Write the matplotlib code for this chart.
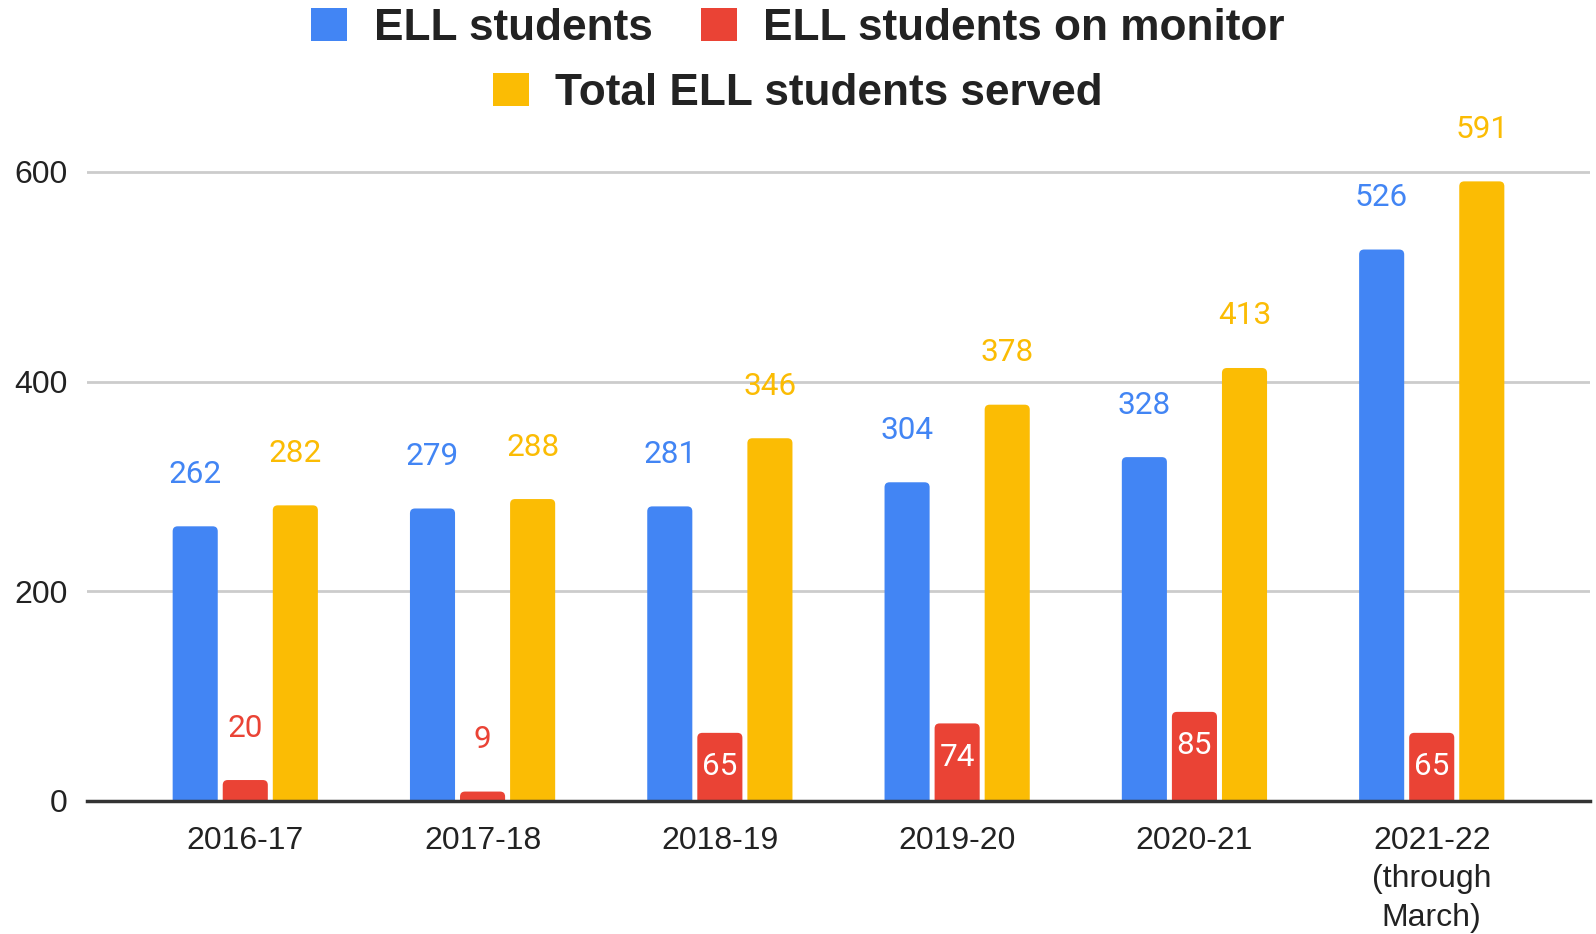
import matplotlib
matplotlib.use("Agg")
import matplotlib.pyplot as plt
from matplotlib.patches import FancyBboxPatch
import numpy as np

categories = ["2016-17", "2017-18", "2018-19", "2019-20", "2020-21", "2021-22\n(through\nMarch)"]
ell_students = [262, 279, 281, 304, 328, 526]
ell_monitor = [20, 9, 65, 74, 85, 65]
total_served = [282, 288, 346, 378, 413, 591]
series_names = ["ELL students", "ELL students on monitor", "Total ELL students served"]
y_ticks = [0, 200, 400, 600]

BLUE = "#4285F4"
RED = "#EA4335"
YELLOW = "#FBBC04"

plt.rcParams['font.family'] = ['Liberation Sans', 'DejaVu Sans']

fig = plt.figure(figsize=(15.96, 9.34), dpi=100)
ax_left, ax_right, ax_bottom_px, ax_top_px = 87, 1590, 801, 130
ax = fig.add_axes([ax_left/1596, 1 - ax_bottom_px/934, (ax_right-ax_left)/1596, (ax_bottom_px-ax_top_px)/934])

x = np.arange(len(categories))
w = 0.19
step = 0.211
xlim = (-0.667, 5.667)
ylim = (0, 640)
ax.set_xlim(*xlim)
ax.set_ylim(*ylim)

px_per_x = (ax_right - ax_left) / (xlim[1] - xlim[0])
px_per_y = (ax_bottom_px - ax_top_px) / (ylim[1] - ylim[0])

b1 = ax.bar(x - step, ell_students, w, color=BLUE, label=series_names[0], zorder=3)
b2 = ax.bar(x, ell_monitor, w, color=RED, label=series_names[1], zorder=3)
b3 = ax.bar(x + step, total_served, w, color=YELLOW, label=series_names[2], zorder=3)

# replace with rounded-corner bars
r_px = 5
for bars, col in [(b1, BLUE), (b2, RED), (b3, YELLOW)]:
    for rect in bars:
        rect.set_visible(False)
        x0 = rect.get_x()
        wd = rect.get_width()
        h = rect.get_height()
        ext = r_px / px_per_y
        p = FancyBboxPatch((x0, -ext), wd, h + ext,
                           boxstyle=f"round,pad=0,rounding_size={r_px/px_per_x}",
                           mutation_aspect=px_per_x/px_per_y,
                           facecolor=col, edgecolor="none", zorder=3, clip_on=True)
        ax.add_patch(p)

label_fs = 22.7
label_font = ['Roboto', 'DejaVu Sans']
above = 52 * 0.72
for bars, vals, col in [(b1, ell_students, BLUE), (b3, total_served, YELLOW)]:
    for rect, v in zip(bars, vals):
        ax.annotate(str(v), (rect.get_x() + rect.get_width()/2, v),
                    xytext=(0, above), textcoords="offset points",
                    ha="center", va="center", color=col, fontsize=label_fs,
                    family=label_font, zorder=4)
for rect, v in zip(b2, ell_monitor):
    if v > 40:
        ax.annotate(str(v), (rect.get_x() + rect.get_width()/2, v),
                    xytext=(0, -34*0.72), textcoords="offset points",
                    ha="center", va="center", color="white", fontsize=label_fs,
                    family=label_font, zorder=4)
    else:
        ax.annotate(str(v), (rect.get_x() + rect.get_width()/2, v),
                    xytext=(0, above), textcoords="offset points",
                    ha="center", va="center", color=RED, fontsize=label_fs,
                    family=label_font, zorder=4)

ax.set_yticks(y_ticks)
ax.set_xticks(x)
ax.set_xticklabels(categories, linespacing=1.36)
ax.tick_params(axis="both", length=0, labelsize=23, labelcolor="#222222")
ax.tick_params(axis="y", pad=14)
ax.tick_params(axis="x", pad=18)
ax.grid(axis="y", color="#cccccc", linewidth=2, zorder=0)
for s in ["top", "right", "left"]:
    ax.spines[s].set_visible(False)
ax.spines["bottom"].set_color("#333333")
ax.spines["bottom"].set_linewidth(2.5)
ax.spines["bottom"].set_zorder(5)

leg_kw = dict(frameon=False, handlelength=0.81, handleheight=0.79,
              handletextpad=0.6, columnspacing=1.1, borderaxespad=0, borderpad=0)
leg_prop = {'weight': 'bold', 'size': 31.8}
leg1 = fig.legend([b1, b2], series_names[:2], loc="center", ncol=2,
                  bbox_to_anchor=(0.5, 1 - 28.5/934), prop=leg_prop, **leg_kw)
leg2 = fig.legend([b3], series_names[2:], loc="center", ncol=1,
                  bbox_to_anchor=(0.5, 1 - 93.5/934), prop=leg_prop, **leg_kw)
for leg in (leg1, leg2):
    for t in leg.get_texts():
        t.set_color("#222222")
    for hnd in leg.legend_handles:
        hnd.set_visible(True)

fig.savefig("out.png", dpi=100)
